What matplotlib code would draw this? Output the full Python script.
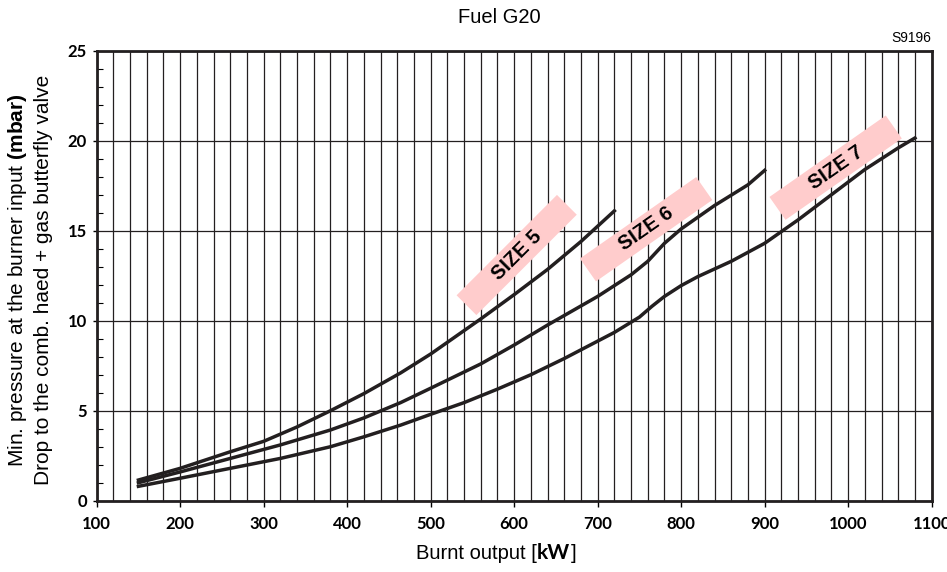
"""
Fuel G20 pressure drop chart for burner sizes 5, 6 and 7.
"""

import matplotlib
matplotlib.use("Agg")
import matplotlib.pyplot as plt
import matplotlib.transforms as mtransforms
from matplotlib.patches import Rectangle
from matplotlib.ticker import MultipleLocator

plt.rcParams['font.family'] = ['Liberation Sans', 'DejaVu Sans']
plt.rcParams['mathtext.fontset'] = 'custom'
plt.rcParams['mathtext.rm'] = 'Liberation Sans'
plt.rcParams['mathtext.bf'] = 'Liberation Sans:bold'

# curves (kW, mbar)
size5_kw = [150, 200, 260, 300, 340, 380, 420, 464, 500, 560, 600, 640, 680, 720]
size5_mbar = [1.15, 1.8, 2.72, 3.3, 4.1, 5.0, 5.95, 7.1, 8.15, 10.1, 11.45, 12.85, 14.4, 16.1]

size6_kw = [150, 200, 260, 320, 380, 420, 464, 500, 560, 600, 640, 700, 740, 760, 780, 800, 840, 880, 900]
size6_mbar = [1.0, 1.6, 2.35, 3.1, 3.93, 4.6, 5.45, 6.25, 7.6, 8.65, 9.76, 11.35, 12.55, 13.3, 14.3, 15.1, 16.4, 17.55, 18.35]

size7_kw = [150, 200, 260, 320, 380, 420, 464, 500, 540, 580, 620, 660, 720, 750, 765, 780, 800, 820,
            860, 900, 940, 980, 1020, 1060, 1080]
size7_mbar = [0.8, 1.25, 1.8, 2.35, 3.0, 3.55, 4.2, 4.8, 5.45, 6.2, 7.0, 7.9, 9.35, 10.2, 10.8, 11.35,
              11.95, 12.45, 13.3, 14.3, 15.6, 17.0, 18.4, 19.6, 20.15]

# size tags: label, centre (kW, mbar), angle
tag_labels = ['SIZE 5', 'SIZE 6', 'SIZE 7']
tag_kw = [603, 758, 985]
tag_mbar = [13.65, 15.08, 18.5]
tag_angle = [45, 35, 35]

x_ticks = list(range(100, 1101, 100))
y_ticks = [0, 5, 10, 15, 20, 25]

fig = plt.figure(figsize=(9.47, 5.72), dpi=100)
ax = fig.add_axes([0.1021, 0.1246, 0.8817, 0.7868])

line_kw = dict(color='#231f20', linewidth=2.5, solid_joinstyle='round', zorder=3)
ax.plot(size5_kw, size5_mbar, **line_kw)
ax.plot(size6_kw, size6_mbar, **line_kw)
ax.plot(size7_kw, size7_mbar, **line_kw)

ax.set_xlim(100, 1100)
ax.set_ylim(0, 25)

# grid: vertical every 20 kW, horizontal every 5 mbar
ax.xaxis.set_minor_locator(MultipleLocator(20))
ax.yaxis.set_minor_locator(MultipleLocator(1))
ax.set_xticks(x_ticks)
ax.set_yticks(y_ticks)
ax.grid(True, which='major', axis='y', color='#231f20', linewidth=0.9)
ax.grid(True, which='both', axis='x', color='#231f20', linewidth=0.9)
ax.set_axisbelow(True)

tick_font = dict(family=['Lato', 'DejaVu Sans'], weight='bold', size=12)
ax.set_xticklabels([str(v) for v in x_ticks], fontdict=tick_font)
ax.set_yticklabels([str(v) for v in y_ticks], fontdict=tick_font)
ax.tick_params(axis='x', which='major', direction='out', length=4, width=1, pad=7)
ax.tick_params(axis='x', which='minor', length=0)
ax.tick_params(axis='y', which='major', direction='out', length=3, width=1, pad=4)
ax.tick_params(axis='y', which='minor', direction='in', length=4, width=0.8)

for side in ['left', 'bottom', 'right', 'top']:
    ax.spines[side].set_linewidth(2.0)
    ax.spines[side].set_color('#231f20')

# pink tags with rotated text
for label, kx, my, ang in zip(tag_labels, tag_kw, tag_mbar, tag_angle):
    w, h = 1.42, 0.28  # inches
    tr = (mtransforms.Affine2D().rotate_deg(ang) + fig.dpi_scale_trans
          + mtransforms.ScaledTranslation(kx, my, ax.transData))
    ax.add_patch(Rectangle((-w / 2, -h / 2), w, h, transform=tr,
                           facecolor='#ffcccc', edgecolor='none', zorder=2,
                           clip_on=False))
    ax.text(kx, my, label, rotation=ang, rotation_mode='anchor',
            ha='center', va='center', fontsize=14.5, fontweight='bold',
            family=['Liberation Sans', 'DejaVu Sans'], color='black', zorder=4)

# titles and labels
fig.text(0.527, 0.969, 'Fuel G20', ha='center', va='center', fontsize=14.5)
fig.text(0.983, 0.934, 'S9196', ha='right', va='center', fontsize=10)

fig.text(0.567, 0.033, 'Burnt output [', ha='right', va='center', fontsize=14.5)
fig.text(0.567, 0.033, 'kW', ha='left', va='center', fontsize=15,
         fontweight='bold', family=['Lato', 'DejaVu Sans'])
fig.text(0.6025, 0.033, ']', ha='left', va='center', fontsize=14.5)

fig.text(0.019, 0.51, r'Min. pressure at the burner input $\mathbf{(mbar)}$',
         rotation=90, ha='center', va='center', fontsize=15)
fig.text(0.046, 0.51, 'Drop to the comb. haed + gas butterfly valve',
         rotation=90, ha='center', va='center', fontsize=15)

fig.savefig('out.png', dpi=100)
